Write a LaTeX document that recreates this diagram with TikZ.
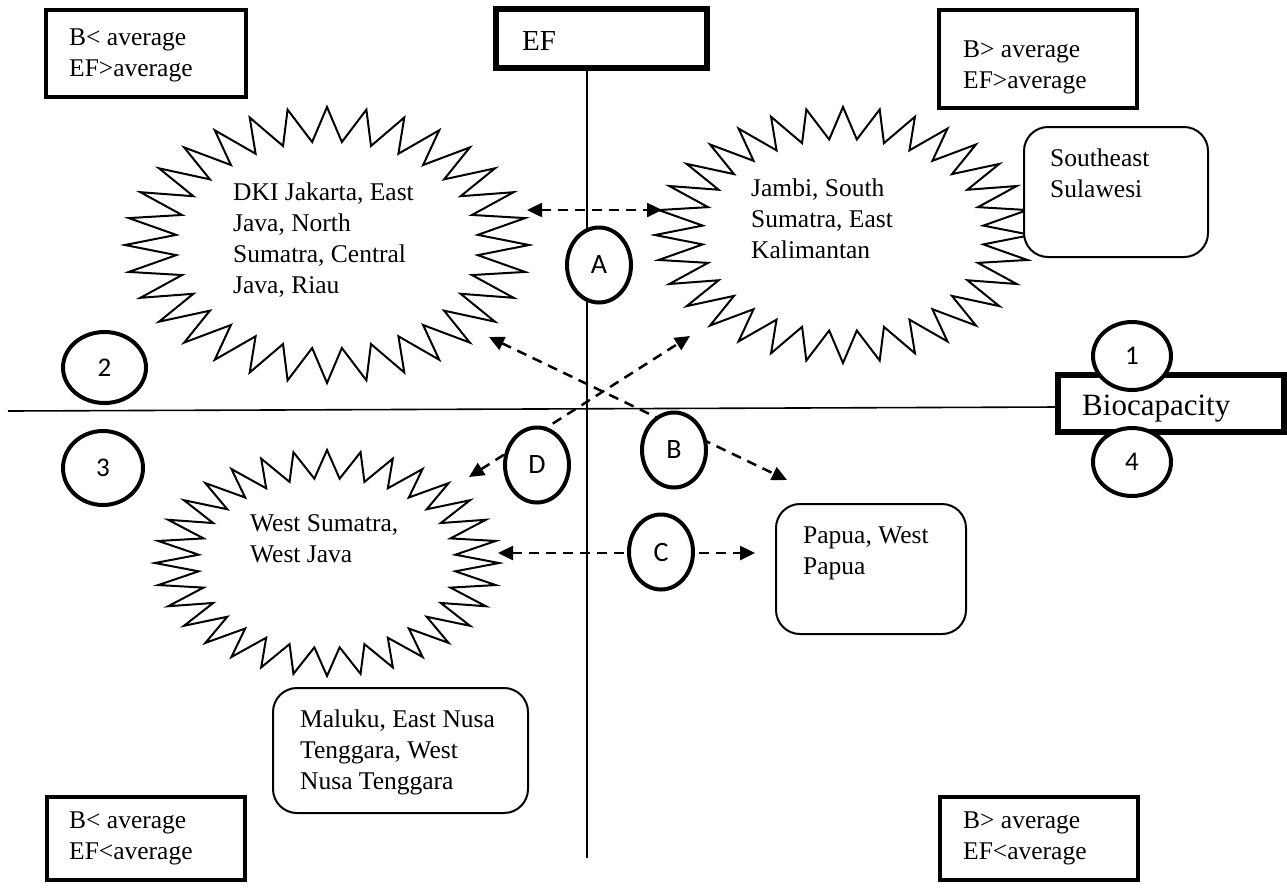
\documentclass[tikz,border=0pt]{standalone}
\usepackage{fontspec}
\setmainfont{Liberation Serif}
\newfontfamily\badgefont{Carlito}
\usetikzlibrary{arrows.meta,shapes.geometric}

% 32-point burst: centre x, centre y, half width, half height
\newcommand{\burstshape}[4]{%
  \draw[burst] plot[domain=0:63, samples=64, variable=\k]
    ({#1+(1-0.25*mod(\k,2))*#3*cos(\k*5.625)},
     {#2+(1-0.25*mod(\k,2))*#4*sin(\k*5.625)}) -- cycle;}
\newcommand{\capstrut}{\rule{0pt}{20pt}}

\tikzset{
  axis/.style={line width=1.6pt},
  burst/.style={draw, line width=2pt, fill=white, line join=miter},
  qbox/.style={rectangle, draw, line width=4pt, fill=white, inner sep=0pt},
  titlebox/.style={rectangle, draw, line width=6pt, fill=white, inner sep=0pt},
  rbox/.style={rectangle, draw, line width=2pt, rounded corners=24pt, fill=white, inner sep=0pt},
  badge/.style={ellipse, draw, fill=white, line width=4pt, inner sep=0pt},
  numbadge/.style={badge, minimum width=78pt, minimum height=68pt,
    font=\badgefont\fontsize{27}{30}\selectfont},
  lettbadge/.style={badge, minimum width=64pt, minimum height=75pt,
    font=\badgefont\fontsize{28}{30}\selectfont},
  link/.style={line width=2.5pt, dash pattern=on 10pt off 7pt, <->,
    >={Triangle[length=15pt,width=14pt]}},
  txt/.style={anchor=north west, inner sep=0pt, align=left,
    font=\fontsize{25.5}{31}\selectfont},
}

\begin{document}
\begin{tikzpicture}[x=1pt, y=-1pt]
\fill[white] (0,0) rectangle (1287,887);
\useasboundingbox (0,0) rectangle (1287,887);

% axis labels
\node[titlebox, minimum width=211pt, minimum height=59pt] (ef) at (601.5,38.5) {};
\node[txt, font=\fontsize{29}{33}\selectfont] (eft) at (522,28) {\rule{0pt}{22pt}EF};

% axes
\coordinate (vbot) at (587,858);
\coordinate (hleft) at (8,411);
\coordinate (hright) at (1058,407);
\draw[axis] (ef.south -| vbot) -- (vbot);
\draw[axis] (hleft) -- (hright);

% province groups
\burstshape{327}{245}{202}{138}
\burstshape{843}{235}{188}{128}
\burstshape{327}{563}{172}{113}
\node[txt] (g1) at (233,180) {\capstrut DKI Jakarta, East\\Java, North\\Sumatra, Central\\Java, Riau};
\node[txt] (g2) at (751,176) {\capstrut Jambi, South\\Sumatra, East\\Kalimantan};
\node[txt] (g3) at (250,511) {\capstrut West Sumatra,\\West Java};

% transitions between groups
\coordinate (a1) at (527,210);  \coordinate (a2) at (662,210);
\coordinate (b1) at (489,337);  \coordinate (b2) at (787,480);
\coordinate (d1) at (469,477);  \coordinate (d2) at (690,336);
\coordinate (c1) at (498,553);  \coordinate (c2) at (755,553);
\draw[link] (a1) -- (a2);
\draw[link] (b1) -- (b2);
\draw[link] (d1) -- (d2);
\draw[link] (c1) -- (c2);

% quadrant descriptions
\node[qbox, minimum width=200pt, minimum height=87pt] (qtl) at (146,53.5) {};
\node[txt] (qtlt) at (69,25) {\capstrut B< average\\EF>average};
\node[qbox, minimum width=198pt, minimum height=98pt] (qtr) at (1038,59) {};
\node[txt] (qtrt) at (963,37) {\capstrut B> average\\EF>average};
\node[qbox, minimum width=198pt, minimum height=83pt] (qbl) at (146,838.5) {};
\node[txt] (qblt) at (69,808) {\capstrut B< average\\EF<average};
\node[qbox, minimum width=198pt, minimum height=83pt] (qbr) at (1039,838.5) {};
\node[txt] (qbrt) at (963,808) {\capstrut B> average\\EF<average};

% single provinces
\node[rbox, minimum width=184pt, minimum height=130pt] (se) at (1116,192) {};
\node[txt] (set) at (1050,146) {\capstrut Southeast\\Sulawesi};
\node[rbox, minimum width=190pt, minimum height=130pt] (pa) at (871,569) {};
\node[txt] (pat) at (803,523) {\capstrut Papua, West\\Papua};
\node[rbox, minimum width=255pt, minimum height=125pt] (ma) at (400.5,750.5) {};
\node[txt] (mat) at (300,707) {\capstrut Maluku, East Nusa\\Tenggara, West\\Nusa Tenggara};

% horizontal axis label
\node[titlebox, minimum width=226pt, minimum height=57pt] (bio) at (1171,403.5) {};
\node[txt, font=\fontsize{31}{35}\selectfont] (biot) at (1082,391) {\rule{0pt}{24pt}Biocapacity};

% quadrant numbers
\node[numbadge] (n1) at (1132,356) {1};
\node[numbadge] (n4) at (1132,462) {4};
\node[numbadge, minimum width=83pt, minimum height=71pt] (n2) at (104.5,367.5) {2};
\node[numbadge, minimum width=80pt, minimum height=74pt] (n3) at (103,468) {3};

% transition labels
\node[lettbadge] (la) at (599,265) {A};
\node[lettbadge] (lb) at (674,450) {B};
\node[lettbadge] (ld) at (537,465) {D};
\node[lettbadge] (lc) at (661,552) {C};
\end{tikzpicture}
\end{document}
